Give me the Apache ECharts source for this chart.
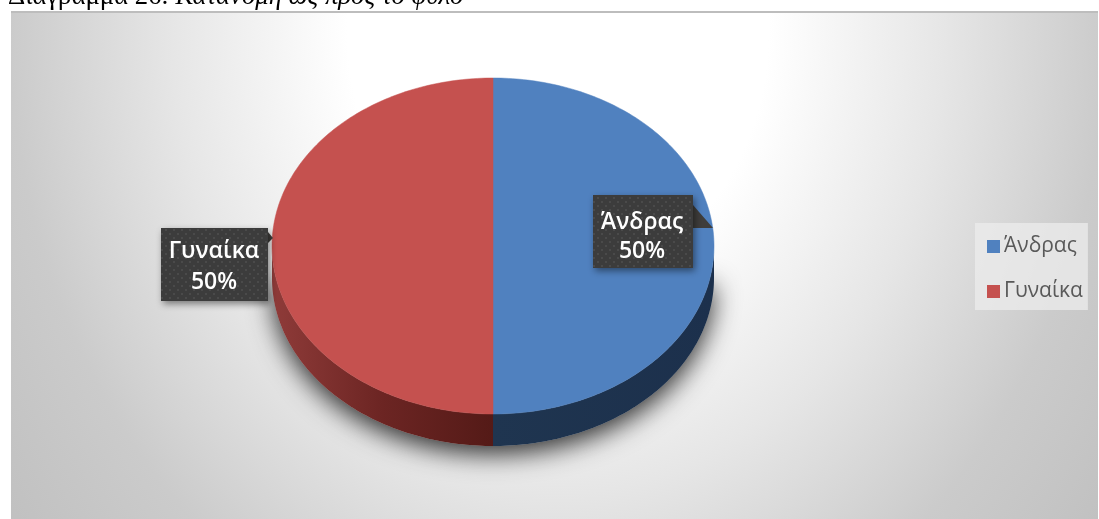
<!DOCTYPE html>
<html lang="el">
<head>
<meta charset="utf-8">
<title>Κατανομή ως προς το φύλο</title>
<script src="https://cdn.jsdelivr.net/npm/echarts@6/dist/echarts.min.js"></script>
<style>
  html, body { margin: 0; padding: 0; background: #fff; }
  #chart { width: 1099px; height: 519px; }
</style>
</head>
<body>
<div id="chart"></div>
<script>
// Gender split
const sliceNames = ['Άνδρας', 'Γυναίκα'];
const sliceValues = [50, 50];
const captionLead = 'Διάγραμμα 26:';
const captionRest = 'Κατανομή ως προς το φύλο';

// Flattened 3D pie geometry
const cx = 493, cy = 246, rx = 221, ry = 168, depth = 32;
const total = sliceValues.reduce((a, b) => a + b, 0);

const topColors = ['#5081bf', '#c5514f'];
const wallColors = [
  [[0, '#1f3550'], [1, '#1c304c']],
  [[0, '#8f3b39'], [0.5, '#6c2523'], [1, '#541a17']]
];
// Callout boxes, with the point of each pointer
const callouts = [
  { box: [593, 195, 100, 73], tail: [[693, 205], [713, 228], [693, 228]], tx: 642, ty: [222, 251] },
  { box: [161, 228, 107, 73], tail: [[268, 232], [273, 238], [268, 243]], tx: 214, ty: [251, 282] }
];

// Point on the ellipse; the angle runs clockwise from twelve o'clock
function rim(deg, dy) {
  const a = deg * Math.PI / 180;
  return [cx + rx * Math.sin(a), cy - ry * Math.cos(a) + (dy || 0)];
}
function arc(from, to, dy) {
  const pts = [];
  const n = Math.max(2, Math.ceil(Math.abs(to - from)));
  for (let i = 0; i <= n; i++) pts.push(rim(from + (to - from) * i / n, dy));
  return pts;
}

// Dark dotted fill of the callouts
function dotPattern() {
  const c = document.createElement('canvas');
  c.width = c.height = 8;
  const g = c.getContext('2d');
  g.fillStyle = '#3c3c3c';
  g.fillRect(0, 0, 8, 8);
  g.fillStyle = '#4a4a4a';
  [[1, 1], [5, 5]].forEach(p => g.fillRect(p[0], p[1], 2, 2));
  return { image: c, repeat: 'repeat' };
}
const dots = dotPattern();

function renderSlice(params, api) {
  const i = params.seriesIndex;
  const value = api.value(0);
  const before = sliceValues.slice(0, i).reduce((a, b) => a + b, 0);
  const start = before / total * 360;
  const end = (before + value) / total * 360;
  const children = [];

  // Soft shadow falling below the front of the pie, added once
  if (i === 0) {
    children.push({
      type: 'polygon', z2: -5,
      shape: { points: arc(90, 270, depth) },
      style: {
        fill: '#b8b8b8',
        shadowBlur: 26, shadowOffsetX: 0, shadowOffsetY: 8,
        shadowColor: 'rgba(0,0,0,0.8)'
      }
    });
  }

  // Only the front half of the ellipse shows a wall
  const wStart = Math.max(start, 90), wEnd = Math.min(end, 270);
  if (wEnd > wStart) {
    const upper = arc(wStart, wEnd, 0);
    const lower = arc(wEnd, wStart, depth);
    const xs = upper.map(p => p[0]);
    children.push({
      type: 'polygon',
      shape: { points: upper.concat(lower) },
      style: {
        fill: {
          type: 'linear', global: true,
          x: Math.min.apply(null, xs), y: 0, x2: Math.max.apply(null, xs), y2: 0,
          colorStops: wallColors[i].map(s => ({ offset: s[0], color: s[1] }))
        }
      }
    });
  }

  children.push({
    type: 'polygon',
    shape: { points: [[cx, cy]].concat(arc(start, end, 0)) },
    style: { fill: topColors[i], stroke: topColors[i], lineWidth: 0.5 }
  });

  const c = callouts[i];
  children.push({
    type: 'polygon', z2: 10,
    shape: { points: c.tail },
    style: { fill: '#3f3d3b' }
  });
  children.push({
    type: 'rect', z2: 11,
    shape: { x: c.box[0], y: c.box[1], width: c.box[2], height: c.box[3] },
    style: {
      fill: dots,
      shadowBlur: 7, shadowOffsetX: 2, shadowOffsetY: 3,
      shadowColor: 'rgba(0,0,0,0.45)'
    }
  });
  const pct = Math.round(value / total * 100) + '%';
  [sliceNames[i], pct].forEach((t, k) => {
    children.push({
      type: 'text', z2: 12,
      style: {
        x: c.tx, y: c.ty[k], text: t,
        fill: '#ffffff',
        font: '600 23px "Open Sans", sans-serif',
        align: 'center', verticalAlign: 'middle'
      }
    });
  });
  return { type: 'group', children: children };
}

const bgScaleY = 1.2;
const chart = echarts.init(document.getElementById('chart'), null, { renderer: 'canvas' });
chart.setOption({
  animation: false,
  tooltip: { show: false },
  legend: {
    data: sliceNames,
    orient: 'vertical',
    left: 975,
    top: 223,
    padding: [13, 5, 8, 12],
    itemWidth: 13,
    itemHeight: 13,
    itemGap: 24,
    icon: 'rect',
    selectedMode: false,
    backgroundColor: 'rgba(236,236,236,0.75)',
    textStyle: {
      color: '#595959',
      fontFamily: '"Open Sans", sans-serif',
      fontSize: 21,
      padding: [0, 0, 0, -1]
    }
  },
  graphic: [
    {
      type: 'rect', z: -10, silent: true,
      scaleY: bgScaleY,
      shape: { x: 11, y: 12 / bgScaleY, width: 1087, height: 507 / bgScaleY },
      style: {
        fill: {
          type: 'radial', global: true,
          x: 558, y: 30 / bgScaleY, r: 702,
          colorStops: [
            { offset: 0, color: '#ffffff' },
            { offset: 0.3, color: '#ffffff' },
            { offset: 0.55, color: '#e6e6e6' },
            { offset: 0.78, color: '#cbcbcb' },
            { offset: 1, color: '#bfbfbf' }
          ]
        }
      }
    },
    {
      type: 'rect', z: -9, silent: true,
      shape: { x: 11, y: 11, width: 1087, height: 2 },
      style: { fill: '#bdbdbd' }
    },
    {
      type: 'text', z: 5, silent: true, x: 8, y: -17,
      style: {
        text: '{a|' + captionLead + ' }{b|' + captionRest + '}',
        rich: {
          a: { fontFamily: '"Liberation Serif", serif', fontSize: 26.7, color: '#111' },
          b: { fontStyle: 'italic', fontFamily: '"Liberation Serif", serif', fontSize: 26.7, color: '#111' }
        }
      }
    }
  ],
  series: [
    {
      type: 'custom', name: sliceNames[0], coordinateSystem: 'none', z: 2, silent: true,
      itemStyle: { color: topColors[0] },
      renderItem: renderSlice, data: [[sliceValues[0]]]
    },
    {
      type: 'custom', name: sliceNames[1], coordinateSystem: 'none', z: 2, silent: true,
      itemStyle: { color: topColors[1] },
      renderItem: renderSlice, data: [[sliceValues[1]]]
    }
  ]
});
</script>
</body>
</html>
